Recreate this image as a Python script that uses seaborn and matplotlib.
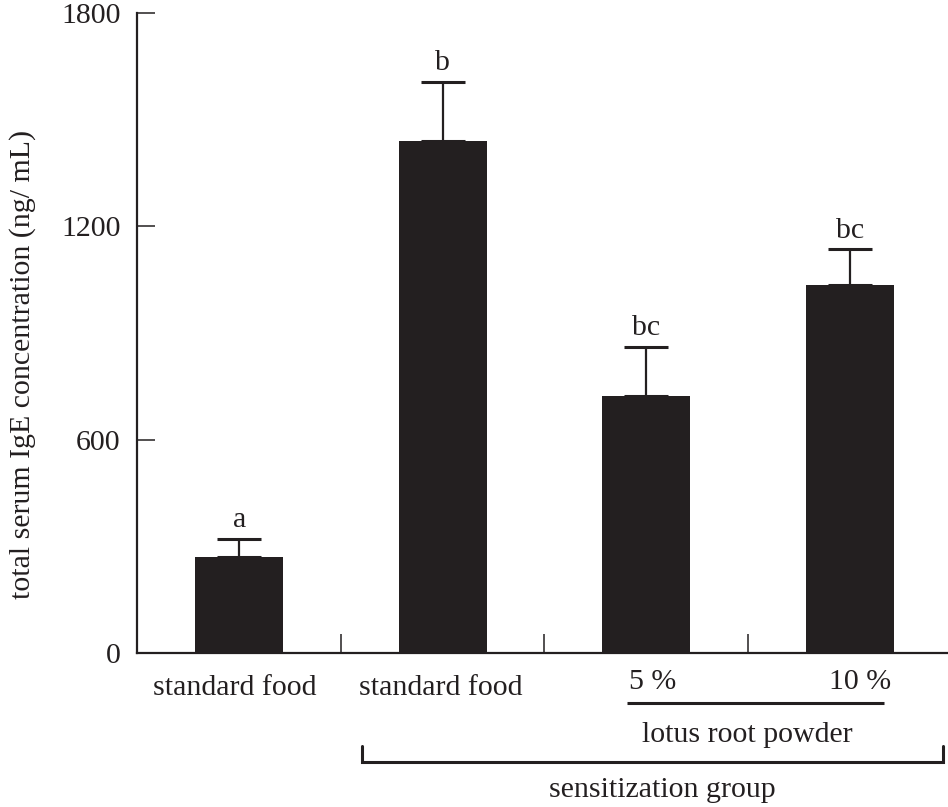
import matplotlib
matplotlib.use("Agg")
import matplotlib.pyplot as plt
import seaborn as sns
import pandas as pd

# Serum IgE by diet group
groups = ["control", "sensitized", "lotus 5%", "lotus 10%"]
ige_mean = [270, 1439, 724, 1034]
ige_sem = [51, 167, 138, 101]
sig_letters = ["a", "b", "bc", "bc"]
y_ticks = [0, 600, 1200, 1800]

INK = "#231f20"
FS = 21.5

sns.set_style("white")
plt.rcParams["font.family"] = ["Liberation Serif", "DejaVu Serif"]
plt.rcParams["text.color"] = INK

df = pd.DataFrame({"group": groups, "ige": ige_mean})

fig = plt.figure(figsize=(9.48, 8.07), dpi=100)
ax = fig.add_axes([0.1450, 0.1908, 0.8586, 0.7931])

sns.barplot(data=df, x="group", y="ige", order=groups, color=INK,
            saturation=1, width=0.432, errorbar=None, ax=ax, zorder=2,
            linewidth=0)

# one-sided (upper) error bars
xs = list(range(len(groups)))
ax.errorbar(xs, ige_mean, yerr=[[0] * len(groups), ige_sem], fmt="none",
            ecolor=INK, elinewidth=1.6, capsize=15.5, capthick=2.2, zorder=3)

for x, m, e, lab in zip(xs, ige_mean, ige_sem, sig_letters):
    ax.annotate(lab, xy=(x, m + e), xytext=(0, 8.5), textcoords="offset points",
                ha="center", va="baseline", fontsize=FS, color=INK)

ax.set_xlim(-0.5, 3.5)
ax.set_ylim(0, 1800)
ax.set_yticks(y_ticks)
ax.set_yticklabels([str(v) for v in y_ticks])
ax.set_xticks([0.5, 1.5, 2.5])
ax.set_xticklabels([])
ax.set_xlabel("")

ax.tick_params(axis="y", left=True, direction="in", length=13, width=1.1,
               color=INK, labelsize=FS, pad=12, labelcolor=INK)
ax.tick_params(axis="x", bottom=True, direction="in", length=13.7, width=1.1,
               color=INK)

for side in ("top", "right"):
    ax.spines[side].set_visible(False)
for side in ("left", "bottom"):
    ax.spines[side].set_linewidth(1.6)
    ax.spines[side].set_color(INK)

ax.set_ylabel("total serum IgE concentration (ng/ mL)", fontsize=FS,
              color=INK, va="center")
ax.yaxis.set_label_coords(-0.1407, 0.4516)

# group labels beneath the axis
def label(x, y, s):
    ax.text(x, y, s, ha="center", va="baseline", fontsize=FS, color=INK,
            clip_on=False)

label(-0.02, -118, "standard food")
label(0.99, -118, "standard food")
label(2.03, -101, "5 %")
label(3.05, -101, "10 %")
ax.plot([1.905, 3.168], [-141, -141], color=INK, lw=2.2, clip_on=False,
        solid_capstyle="butt")
label(2.495, -251, "lotus root powder")
ax.plot([0.603, 0.603, 3.458, 3.458], [-262, -307, -307, -262], color=INK,
        lw=2.2, clip_on=False, solid_joinstyle="miter")
label(2.077, -406, "sensitization group")

fig.savefig("out.png", dpi=100)
